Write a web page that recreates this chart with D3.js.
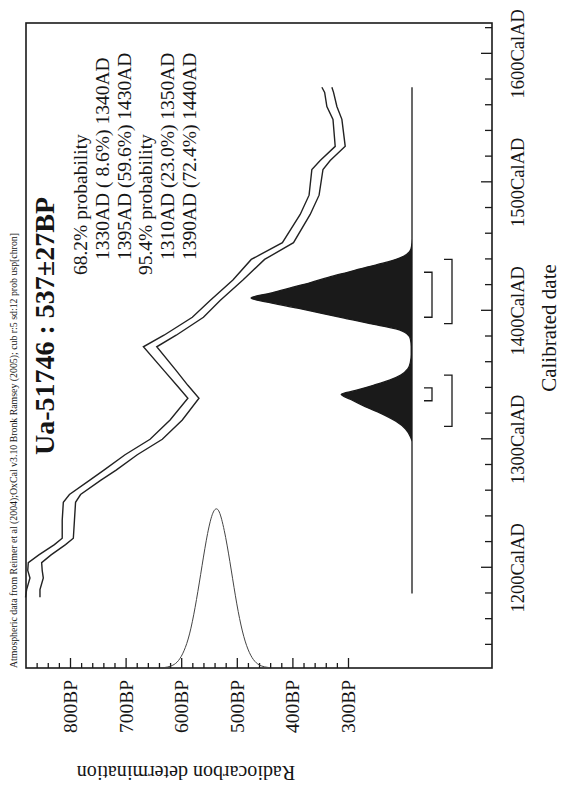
<!DOCTYPE html>
<html>
<head>
<meta charset="utf-8">
<script src="https://cdn.jsdelivr.net/npm/d3@7.9.0/dist/d3.min.js"></script>
<style>
  body { margin: 0; background: #fff; }
  text { font-family: "Liberation Serif", "Times New Roman", serif; fill: #151515; white-space: pre; }
</style>
</head>
<body>
<svg id="chart" width="562" height="790"></svg>
<script>
// calibration curve (IntCal04): date AD, mid BP, 1 sigma
const curveAD    = [1177,1183,1192,1198,1204,1210,1218,1223,1237,1251,1257,1268,1276,1288,1300,1315,1332,1342,1354,1372,1381,1395,1408,1424,1440,1453,1475,1490,1510,1517,1528,1549,1559,1570,1574];
const curveBP    = [867,866,860,863,863,845,818,804,803,801,791,755,728,690,645,609,578,598,621,656,620,570,539,498,462,408,377,361,355,341,314,319,329,334,338];
const curveSigma = [13,12,12,13,12,11,10,10,11,11,10,10,11,11,11,11,10,10,11,12,11,10,9,9,12,10,9,9,10,9,9,8,9,8,9];

// radiocarbon determination 537±27BP (relative height)
const dateBP   = [440,450,460,470,480,490,500,510,520,530,537,545,555,565,575,585,595,605,615,625,635];
const dateProb = [0.002,0.006,0.017,0.046,0.11,0.22,0.39,0.61,0.82,0.97,1,0.96,0.8,0.58,0.37,0.2,0.1,0.04,0.015,0.005,0.001];

// calibrated distribution (relative height)
const calAD   = [1180,1298,1302,1308,1314,1320,1326,1331,1335,1338,1342,1346,1350,1355,1360,1366,1372,1378,1382,1386,1390,1394,1398,1402,1406,1410,1414,1418,1422,1426,1430,1434,1438,1442,1446,1450,1456,1574];
const calProb = [0,0,0.01,0.04,0.1,0.19,0.3,0.38,0.44,0.35,0.24,0.14,0.07,0.025,0.01,0.005,0.005,0.01,0.03,0.1,0.26,0.41,0.56,0.71,0.87,1.0,0.87,0.75,0.63,0.52,0.40,0.28,0.15,0.06,0.015,0.003,0,0];

// ranges
const range68 = [[1330,1340],[1395,1430]];
const range95 = [[1310,1350],[1390,1440]];

const dateLabels = [1200,1300,1400,1500,1600];
const bpLabels = [800,700,600,500,400,300];
const probLines = ["68.2% probability","1330AD ( 8.6%) 1340AD","1395AD (59.6%) 1430AD","95.4% probability","1310AD (23.0%) 1350AD","1390AD (72.4%) 1440AD"];
const header = "Atmospheric data from Reimer et al (2004);OxCal v3.10 Bronk Ramsey (2005); cub r:5 sd:12 prob usp[chron]";
const title = "Ua-51746 : 537±27BP";

// drawn in the plot's own frame, then turned a quarter to the left like the scan
const svg = d3.select("#chart");
const g = svg.append("g").attr("transform", "translate(0,790) rotate(-90)");

const frame = {left: 122, right: 767, top: 26, bottom: 492};
const x = d3.scaleLinear().domain([1122, 1624]).range([frame.left, frame.right]);
const y = d3.scaleLinear().domain([800, 300]).range([70, 348]);

g.append("rect")
  .attr("x", frame.left).attr("y", frame.top)
  .attr("width", frame.right - frame.left).attr("height", frame.bottom - frame.top)
  .attr("fill", "none").attr("stroke", "#1a1a1a").attr("stroke-width", 1.6);

// date axis ticks (inside)
const minorAD = d3.range(1140, 1621, 20);
g.append("g").attr("transform", `translate(0,${frame.bottom})`)
  .call(d3.axisTop(x).tickValues(minorAD.filter(d => d % 100 != 0)).tickSize(7).tickFormat(""));
g.append("g").attr("transform", `translate(0,${frame.bottom})`)
  .call(d3.axisTop(x).tickValues(dateLabels).tickSize(11).tickFormat(""));

// BP axis ticks (inside)
const minorBP = d3.range(300, 861, 20);
g.append("g").attr("transform", `translate(${frame.left},0)`)
  .call(d3.axisRight(y).tickValues(minorBP.filter(d => d % 100 != 0)).tickSize(5).tickFormat(""));
g.append("g").attr("transform", `translate(${frame.left},0)`)
  .call(d3.axisRight(y).tickValues(bpLabels).tickSize(10).tickFormat(""));
g.selectAll(".domain").remove();
g.selectAll(".tick line").attr("stroke", "#1a1a1a").attr("stroke-width", 1.3);

// tick labels
g.selectAll(".dlab").data(dateLabels).join("text")
  .attr("x", d => x(d)).attr("y", 524)
  .attr("text-anchor", "middle").attr("font-size", 18.5)
  .text(d => d + "CalAD");
g.selectAll(".blab").data(bpLabels).join("text")
  .attr("x", frame.left - 12).attr("y", d => y(d) + 7)
  .attr("text-anchor", "end").attr("font-size", 19.5)
  .text(d => d + "BP");

g.append("text").attr("x", 462).attr("y", 556)
  .attr("text-anchor", "middle").attr("font-size", 21).text("Calibrated date");
g.append("text").attr("transform", "translate(24,186) rotate(-90)")
  .attr("text-anchor", "middle").attr("font-size", 20).text("Radiocarbon determination");

// header + title + ranges text
g.append("text").attr("x", frame.left).attr("y", 17)
  .attr("font-size", 9.5).attr("textLength", 435).attr("lengthAdjust", "spacingAndGlyphs")
  .text(header);
g.append("text").attr("x", 335).attr("y", 54)
  .attr("font-size", 28).attr("font-weight", "bold").text(title);
g.selectAll(".pl").data(probLines).join("text")
  .attr("x", (d, i) => (i % 3 == 0) ? 515 : 530)
  .attr("y", (d, i) => 87 + i * 21.8)
  .attr("font-size", 19.5)
  .text(d => d);

// calibration curve envelope
const curve = curveAD.map((d, i) => ({ad: d, bp: curveBP[i], s: curveSigma[i]}));
[1, -1].forEach(sign => {
  g.append("path").datum(curve)
    .attr("d", d3.line().x(d => x(d.ad)).y(d => y(d.bp + sign * d.s)))
    .attr("fill", "none").attr("stroke", "#222").attr("stroke-width", 1.4);
});

// radiocarbon determination
const dateH = 161;
g.append("path").datum(dateBP.map((d, i) => [d, dateProb[i]]))
  .attr("d", d3.line().x(d => frame.left + d[1] * dateH).y(d => y(d[0])).curve(d3.curveBasis))
  .attr("fill", "none").attr("stroke", "#444").attr("stroke-width", 1);

// calibrated distribution
const base = 412, calH = 161;
g.append("path").datum(calAD.map((d, i) => [d, calProb[i]]))
  .attr("d", d3.area().x(d => x(d[0])).y0(base).y1(d => base - d[1] * calH).curve(d3.curveMonotoneX))
  .attr("fill", "#1a1a1a").attr("stroke", "#1a1a1a").attr("stroke-width", 1.3);

// range brackets
function brackets(ranges, pos) {
  ranges.forEach(r => {
    const p = d3.path();
    p.moveTo(x(r[0]), pos - 8); p.lineTo(x(r[0]), pos);
    p.lineTo(x(r[1]), pos); p.lineTo(x(r[1]), pos - 8);
    g.append("path").attr("d", p.toString())
      .attr("fill", "none").attr("stroke", "#1a1a1a").attr("stroke-width", 1.3);
  });
}
brackets(range68, 432);
brackets(range95, 452);
</script>
</body>
</html>
